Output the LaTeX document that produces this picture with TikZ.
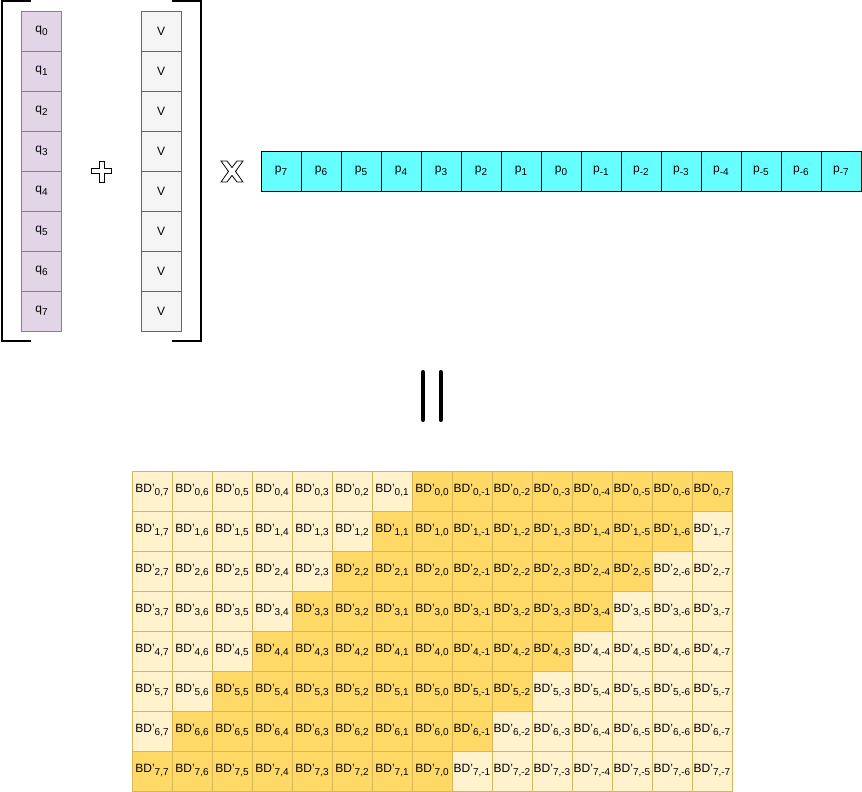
\documentclass[tikz,border=0pt]{standalone}
\usepackage{fontspec}
\setmainfont{Liberation Sans}
\usepackage{xcolor}
\usepackage{tikz}
\usetikzlibrary{positioning}

\definecolor{qfill}{HTML}{E1D5E7}
\definecolor{qline}{HTML}{9673A6}
\definecolor{vfill}{HTML}{F5F5F5}
\definecolor{vline}{HTML}{666666}
\definecolor{pfill}{HTML}{66FFFF}
\definecolor{bdlight}{HTML}{FFF2CC}
\definecolor{bddark}{HTML}{FFD966}
\definecolor{bdline}{HTML}{D6B656}

\newcommand{\lowsub}[1]{\raisebox{-3pt}{\fontsize{10}{10}\selectfont #1}}

\begin{document}
\begin{tikzpicture}[
    x=1pt, y=-1pt,
    cell/.style={rectangle, draw, minimum width=40pt, minimum height=40pt, inner sep=0pt, font=\fontsize{12}{14}\selectfont},
    qcell/.style={cell, draw=qline, fill=qfill},
    vcell/.style={cell, draw=vline, fill=vfill},
    pcell/.style={cell, draw=black, fill=pfill},
    bdlow/.style={cell, draw=bdline, fill=bdlight},
    bdhigh/.style={bdlow, fill=bddark},
    bracket/.style={draw, line width=2pt},
    glyph/.style={draw, line width=0.8pt, fill=white, line join=miter}
]
\useasboundingbox (0,0) rectangle (862,792);

% query and bias columns
\foreach \i in {0,...,7} {
    \node[qcell] (q\i) at (41.5, 31+40*\i) {q\lowsub{\i}};
    \node[vcell] (v\i) at (161, 31+40*\i) {V};
}

% brackets
\draw[bracket] (31,1) -- (2,1) -- (2,341) -- (31,341);
\draw[bracket] (172,1) -- (201,1) -- (201,341) -- (172,341);

% plus and times signs
\draw[glyph] (99,161) -- (104,161) -- (104,168.5) -- (111.5,168.5) -- (111.5,173.5) -- (104,173.5)
    -- (104,182) -- (99,182) -- (99,173.5) -- (91.5,173.5) -- (91.5,168.5) -- (99,168.5) -- cycle;
\draw[glyph] (221,161) -- (227,161) -- (232,167.5) -- (237,161) -- (243,161) -- (235.5,171.5)
    -- (243,182) -- (237,182) -- (232,175.5) -- (227,182) -- (221,182) -- (228.5,171.5) -- cycle;

% position row
\foreach \j [count=\c from 0] in {7,6,...,-7} {
    \node[pcell] (p\j) at (281+40*\c, 171) {p\lowsub{\j}};
}

% equals sign
\draw[line width=4pt, line cap=round] (423,372) -- (423,420);
\draw[line width=4pt, line cap=round] (440.5,372) -- (440.5,420);

% result grid
\foreach \i in {0,...,7} {
    \foreach \j [count=\c from 0] in {7,6,...,-7} {
        \pgfmathtruncatemacro{\hi}{(\j<=\i) && (\j>=\i-7)}
        \ifnum\hi=1 \def\bdstyle{bdhigh}\else\def\bdstyle{bdlow}\fi
        \node[\bdstyle] (bd-\i-\c) at (152+40*\c, 491+40*\i) {BD'\lowsub{\i,\j}};
    }
}
\end{tikzpicture}
\end{document}
